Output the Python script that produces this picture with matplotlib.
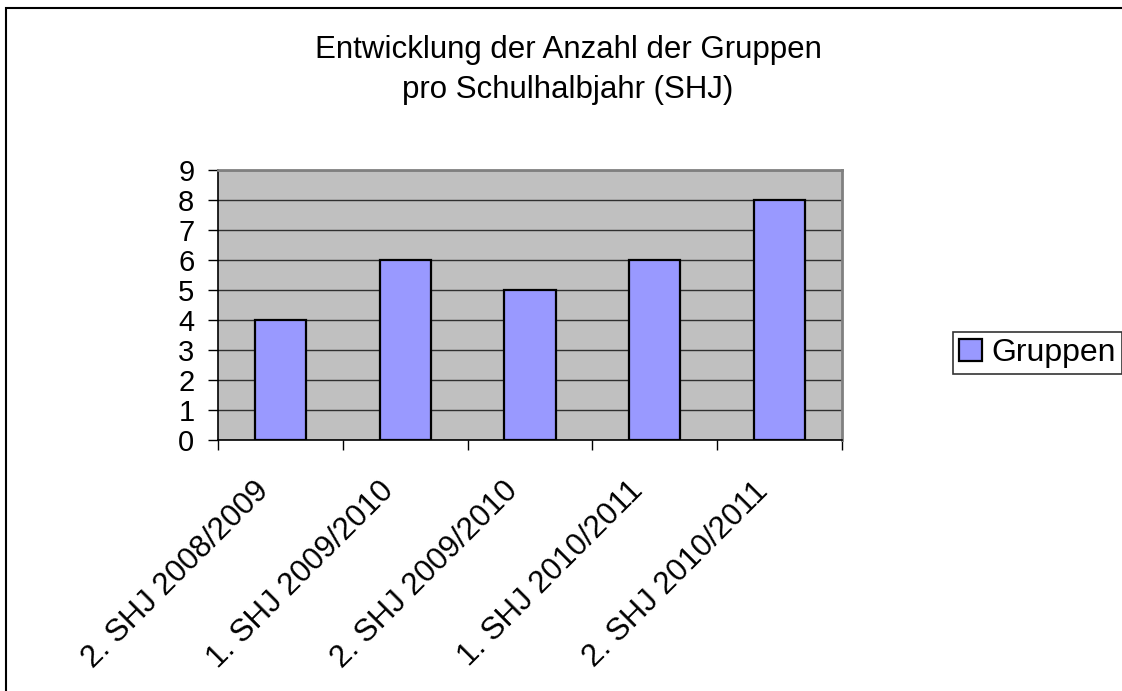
import matplotlib.pyplot as plt
from matplotlib.patches import Rectangle
from matplotlib.transforms import ScaledTranslation
import numpy as np

plt.rcParams['font.family'] = ['Liberation Sans', 'DejaVu Sans']

categories = ["2. SHJ 2008/2009", "1. SHJ 2009/2010", "2. SHJ 2009/2010",
              "1. SHJ 2010/2011", "2. SHJ 2010/2011"]
gruppen = [4, 6, 5, 6, 8]

fig = plt.figure(figsize=(11.22, 6.91), dpi=100)
ax = fig.add_axes([218 / 1122, 1 - 440 / 691, 624 / 1122, 270 / 691])

x = np.arange(len(categories))
ax.set_facecolor("#C0C0C0")
ax.bar(x, gruppen, width=0.41, color="#9999FF", edgecolor="black",
       linewidth=1.6, label="Gruppen", zorder=3)

ax.set_xlim(-0.5, len(categories) - 0.5)
ax.set_ylim(0, 9)
ax.set_yticks(range(0, 10))
ax.yaxis.grid(True, color="#303030", linewidth=1.0, zorder=1)
ax.set_axisbelow(True)

# category labels, rotated, drawn at the category centres
ax.set_xticks(x)
ax.set_xticklabels([])
ax.tick_params(axis="x", which="major", length=0)
shift = ScaledTranslation(-0.27, -0.36, fig.dpi_scale_trans)
for xi, name in zip(x, categories):
    ax.text(xi, 0, name, rotation=45, ha="right", va="top",
            rotation_mode="anchor", fontsize=22.5,
            transform=ax.get_xaxis_transform() + shift)

ax.set_xticks(np.arange(-0.5, len(categories)), minor=True)
ax.tick_params(axis="x", which="minor", length=7, width=1, color="black",
               direction="out")
ax.tick_params(axis="y", length=7, width=1, color="black", direction="out",
               labelsize=21, pad=10)

for s in ["left", "bottom"]:
    ax.spines[s].set_color("black")
    ax.spines[s].set_linewidth(1.2)
for s in ["top", "right"]:
    ax.spines[s].set_color("#808080")
    ax.spines[s].set_linewidth(2)

fig.text(568 / 1122, 1 - 70 / 691,
         "Entwicklung der Anzahl der Gruppen\npro Schulhalbjahr (SHJ)",
         ha="center", va="center", fontsize=22.5, linespacing=1.4)

leg = fig.legend(loc="center left", bbox_to_anchor=(953 / 1122, 1 - 353 / 691),
                 fontsize=23, frameon=True, fancybox=False, handlelength=0.7,
                 handleheight=0.7, handletextpad=0.3, borderpad=0.2,
                 borderaxespad=0)
leg.get_frame().set_edgecolor("black")
leg.get_frame().set_linewidth(1.2)

fig.patches.append(Rectangle((6 / 1122, -0.1), 1.2, 1 - 8 / 691 + 0.1,
                             transform=fig.transFigure, fill=False,
                             edgecolor="black", linewidth=1.5))

fig.savefig("out.png", dpi=100)
